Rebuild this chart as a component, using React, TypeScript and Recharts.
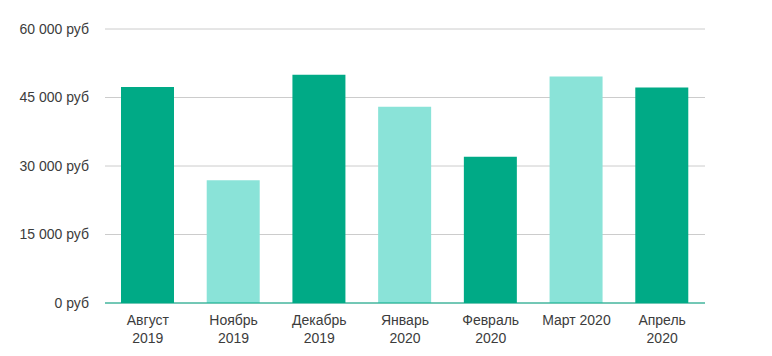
import React from "react";
import { BarChart, Bar, XAxis, YAxis, CartesianGrid, Cell, Text } from "recharts";

const categories = ["Август 2019", "Ноябрь 2019", "Декабрь 2019", "Январь 2020", "Февраль 2020", "Март 2020", "Апрель 2020"];
const revenue = [47300, 26900, 50000, 43000, 32000, 49600, 47200];
const yTicks = [0, 15000, 30000, 45000, 60000];

const data = categories.map((c, i) => ({ name: c, value: revenue[i] }));

const DARK = "#00aa86";
const LIGHT = "#8ae3d8";
const FONT = "'Liberation Sans', Arial, sans-serif";

const fmt = (v: number) => {
  const s = String(v).replace(/\B(?=(\d{3})+(?!\d))/g, " ");
  return `${s} руб`;
};

const XTick = (props: any) => {
  const { x, y, payload } = props;
  return (
    <Text
      x={x}
      y={y}
      width={76}
      textAnchor="middle"
      verticalAnchor="start"
      lineHeight={18}
      fontSize={14}
      fill="#3c3c3c"
      fontFamily={FONT}
    >
      {payload.value}
    </Text>
  );
};

export default function App() {
  return (
    <BarChart
      width={764}
      height={348}
      data={data}
      margin={{ top: 21, right: 67, left: 0, bottom: 18 }}
    >
      <CartesianGrid vertical={false} stroke="#cccccc" />
      <XAxis
        dataKey="name"
        interval={0}
        tickLine={false}
        axisLine={{ stroke: DARK }}
        tick={<XTick />}
        tickMargin={6}
        height={35}
      />
      <YAxis
        width={97}
        domain={[0, 60000]}
        ticks={yTicks}
        tickFormatter={fmt}
        axisLine={false}
        tickLine={false}
        tickMargin={10}
        tick={{ fill: "#3c3c3c", fontSize: 14, fontFamily: FONT }}
      />
      <Bar dataKey="value" barSize={53} isAnimationActive={false}>
        {data.map((d, i) => (
          <Cell key={d.name} fill={i % 2 === 0 ? DARK : LIGHT} />
        ))}
      </Bar>
    </BarChart>
  );
}
